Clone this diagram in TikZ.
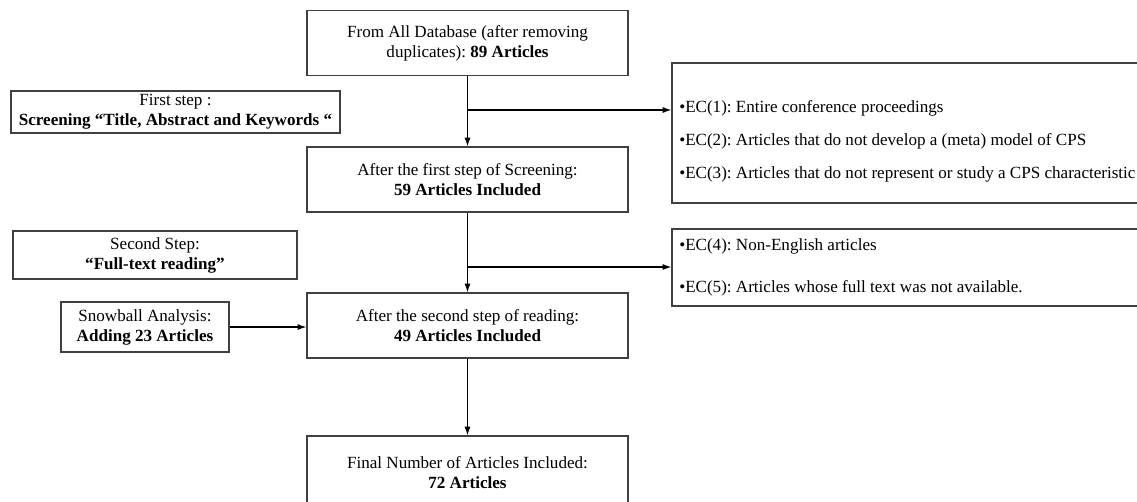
\documentclass[tikz,border=0pt]{standalone}
\usepackage{fontspec}
\setmainfont{Liberation Serif}
\usetikzlibrary{positioning,arrows.meta}
\frenchspacing

\begin{document}
\begin{tikzpicture}[x=0.75pt,y=-0.75pt,
  box/.style={draw=black!75,line width=0.9pt,align=center,inner sep=2pt,
    font=\fontsize{12.8}{15}\selectfont},
  mainbox/.style={box,minimum width=240.75pt,minimum height=48.75pt},
  ecbox/.style={draw=black!75,line width=0.9pt,minimum width=381pt},
  ectext/.style={anchor=west,inner sep=0pt,font=\fontsize{12.8}{15}\selectfont},
  arr/.style={-{Latex[length=6.5pt,width=4.5pt]},line width=0.9pt}]

\useasboundingbox (0,0) rectangle (1137,501);
\clip (0,0) rectangle (1137,501);

% main flow
\node[mainbox] (all) at (467.5,43) {From All Database (after removing\\ duplicates): \textbf{89 Articles}};
\node[mainbox] (first) at (467.5,179.5) {After the first step of Screening:\\ \textbf{59 Articles Included}};
\node[mainbox] (second) at (467.5,325.5) {After the second step of reading:\\ \textbf{49 Articles Included}};
\node[mainbox,minimum height=55.5pt] (final) at (467.5,473) {Final Number of Articles Included:\\ \textbf{72 Articles}};

% side notes
\node[box,minimum width=246.75pt,minimum height=31.5pt] (step1) at (175.5,112) {First step :\\ \textbf{Screening “Title, Abstract and Keywords “}};
\node[box,minimum width=213pt,minimum height=36pt] (step2) at (155,255) {Second Step:\\ \textbf{“Full-text reading”}};
\node[box,minimum width=126pt,minimum height=37.5pt] (snow) at (145,327) {Snowball Analysis:\\ \textbf{Adding 23 Articles}};

% exclusion criteria
\node[ecbox,minimum height=105pt] (ecA) at (926,133) {};
\node[ectext] (ec1) at (679,108) {•EC(1): Entire conference proceedings};
\node[ectext] (ec2) at (679,141) {•EC(2): Articles that do not develop a (meta) model of CPS};
\node[ectext] (ec3) at (679,174) {•EC(3): Articles that do not represent or study a CPS characteristic};

\node[ecbox,minimum height=57.75pt] (ecB) at (926,267.5) {};
\node[ectext] (ec4) at (679,246) {•EC(4): Non-English articles};
\node[ectext] (ec5) at (679,288) {•EC(5): Articles whose full text was not available.};

\coordinate (j1) at (467.5,110);
\coordinate (j2) at (467.5,267);

\draw[arr] (all) -- (first);
\draw[arr] (first) -- (second);
\draw[arr] (second) -- (final);
\draw[arr] (j1) -- (j1 -| ecA.west);
\draw[arr] (j2) -- (j2 -| ecB.west);
\draw[arr] (snow) -- (snow -| second.west);

\end{tikzpicture}
\end{document}
